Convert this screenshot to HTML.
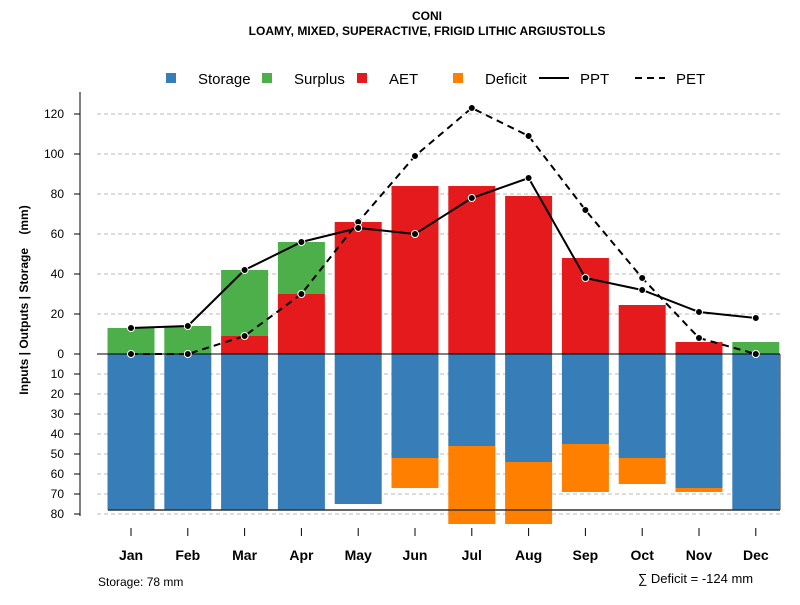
<!DOCTYPE html>
<html><head><meta charset="utf-8"><style>
body{margin:0;background:#fff;font-family:"Liberation Sans",sans-serif}
</style></head><body>
<svg id="c" width="800" height="600" xmlns="http://www.w3.org/2000/svg" font-family="Liberation Sans, sans-serif">
<text x="427" y="20" text-anchor="middle" font-size="12" font-weight="bold">CONI</text>
<text x="427" y="35" text-anchor="middle" font-size="12" font-weight="bold">LOAMY, MIXED, SUPERACTIVE, FRIGID LITHIC ARGIUSTOLLS</text>
<g id="legend" font-size="15">
 <g><rect x="166" y="73" width="10" height="10" fill="#377eb8"/><text x="198" y="84">Storage</text></g>
 <g><rect x="262" y="73" width="10" height="10" fill="#4daf4a"/><text x="294" y="84">Surplus</text></g>
 <g><rect x="357" y="73" width="10" height="10" fill="#e41a1c"/><text x="389" y="84">AET</text></g>
 <g><rect x="453" y="73" width="10" height="10" fill="#ff7f00"/><text x="485" y="84">Deficit</text></g>
 <g><line x1="539" y1="78" x2="569" y2="78" stroke="#000" stroke-width="2"/><text x="580" y="84">PPT</text></g>
 <g><line x1="635" y1="78" x2="665" y2="78" stroke="#000" stroke-width="2" stroke-dasharray="7,5"/><text x="676" y="84">PET</text></g>
</g>
<g id="grid"></g><g id="bars"></g><g id="lines"></g><g id="axes"></g>
<text x="98" y="586" font-size="12">Storage: 78 mm</text>
<text x="638" y="583" font-size="13">∑ Deficit = -124 mm</text>
<text transform="translate(28,300) rotate(-90)" text-anchor="middle" font-size="12" font-weight="bold" style="white-space:pre">Inputs | Outputs | Storage    (mm)</text>
</svg>
<script>
const months=["Jan","Feb","Mar","Apr","May","Jun","Jul","Aug","Sep","Oct","Nov","Dec"];
const storage=[78,78,78,78,75,52,46,54,45,52,67,78];
const deficit=[0,0,0,0,0,15,39,31,24,13,2,0];
const aet=[0,0,9,30,66,84,84,79,48,24.5,6,0];
const surplus=[13,14,33,26,0,0,0,0,0,0,0,6];
const ppt=[13,14,42,56,63,60,78,88,38,32,21,18];
const pet=[0,0,9,30,66,99,123,109,72,38,8,0];
const posTicks=[0,20,40,60,80,100,120];
const negTicks=[10,20,30,40,50,60,70,80];
const storageMax=78;
const NS="http://www.w3.org/2000/svg";
const y0=354,k=2;
function yU(v){return y0-v*k;}
function yD(v){return y0+v*k;}
function xC(i){return 131+i*56.8;}
const bw=47;
function mk(tag,attrs,parent){const e=document.createElementNS(NS,tag);for(const a in attrs)e.setAttribute(a,attrs[a]);document.getElementById(parent).appendChild(e);return e;}
posTicks.forEach(t=>{if(t===0)return;const e=mk('line',{x1:97,x2:780,y1:yU(t),y2:yU(t),stroke:'#bbb','stroke-dasharray':'4,3'},'grid');

});
negTicks.forEach(t=>{const e=mk('line',{x1:97,x2:780,y1:yD(t),y2:yD(t),stroke:'#bbb','stroke-dasharray':'4,3'},'grid');

});
months.forEach((m,i)=>{const x=xC(i)-bw/2;
 let r=mk('rect',{x:x,y:y0,width:bw,height:storage[i]*k,fill:'#377eb8'},'bars');
 
 
 if(deficit[i]>0){r=mk('rect',{x:x,y:yD(storage[i]),width:bw,height:deficit[i]*k,fill:'#ff7f00'},'bars');
 
 }
 if(aet[i]>0){r=mk('rect',{x:x,y:yU(aet[i]),width:bw,height:aet[i]*k,fill:'#e41a1c'},'bars');
 
 }
 if(surplus[i]>0){r=mk('rect',{x:x,y:yU(aet[i]+surplus[i]),width:bw,height:surplus[i]*k,fill:'#4daf4a'},'bars');
 
 }
});
let ln=mk('line',{x1:108,x2:780,y1:yD(storageMax),y2:yD(storageMax),stroke:'#333','stroke-width':1.5},'bars');


ln=mk('line',{x1:780,x2:780,y1:y0,y2:yD(storageMax),stroke:'#333','stroke-width':1},'bars');


ln=mk('line',{x1:97,x2:780,y1:y0,y2:y0,stroke:'#000','stroke-width':1},'bars');


function series(vals,name,dash){
 const p=mk('polyline',{points:vals.map((v,i)=>xC(i)+','+yU(v)).join(' '),fill:'none',stroke:'#000','stroke-width':2,'stroke-dasharray':dash},'lines');
 
 
 vals.forEach((v,i)=>{const c=mk('circle',{cx:xC(i),cy:yU(v),r:3.5,fill:'#000',stroke:'#fff','stroke-width':1},'lines');
 
 });
}
series(pet,'pet','7,5');series(ppt,'ppt','none');
ln=mk('line',{x1:80,x2:80,y1:92,y2:516,stroke:'#000'},'axes');


function tick(y,lab){const t=mk('line',{x1:74,x2:80,y1:y,y2:y,stroke:'#000'},'axes');
 
 
 const tx=mk('text',{x:64,y:y+4,'text-anchor':'end','font-size':12},'axes');tx.textContent=lab;
 
 }
posTicks.forEach(t=>tick(yU(t),t));negTicks.forEach(t=>tick(yD(t),t));
months.forEach((m,i)=>{const t=mk('line',{x1:xC(i),x2:xC(i),y1:528,y2:536,stroke:'#000'},'axes');
 
 
 const tx=mk('text',{x:xC(i),y:560,'text-anchor':'middle','font-size':14,'font-weight':'bold'},'axes');tx.textContent=m;
 
 });
</script>
</body></html>
